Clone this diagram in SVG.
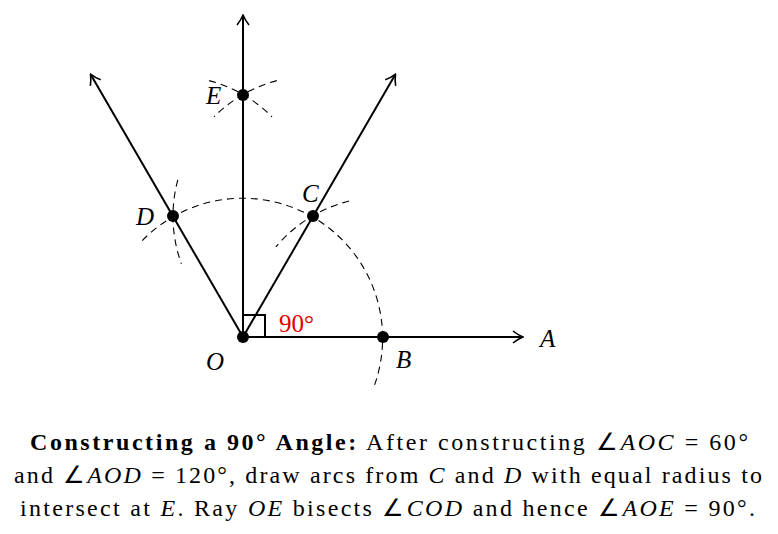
<svg xmlns="http://www.w3.org/2000/svg" width="778" height="534" viewBox="0 0 778 534">
<style>
.ray{stroke:#000;stroke-width:2;fill:none}
.dash{stroke:#000;stroke-width:1.1;fill:none;stroke-dasharray:7 5}
.lbl{font-family:"Liberation Serif",serif;font-style:italic;font-size:25px}
.cap{font-family:"Liberation Serif",serif;font-size:24px}
</style>
<defs><marker id="ah" markerWidth="12" markerHeight="14" refX="10" refY="7" orient="auto" markerUnits="userSpaceOnUse"><path d="M1,1 Q6,5 11,7 Q6,9 1,13" stroke="#000" stroke-width="1.6" fill="none"/></marker></defs>
<rect width="778" height="534" fill="#fff"/>
<g id="connectors">
<line class="ray" x1="243" y1="337" x2="522" y2="337" marker-end="url(#ah)"/>
<line class="ray" x1="243" y1="337" x2="243" y2="16" marker-end="url(#ah)"/>
<line class="ray" x1="243" y1="337" x2="395" y2="75" marker-end="url(#ah)"/>
<line class="ray" x1="243" y1="337" x2="91" y2="75" marker-end="url(#ah)"/>
<path class="ray" d="M243,315 H265 V337" stroke-width="1.5"/>
<path class="dash" d="M374.6,384.9 A140,140 0 0 0 139.6,243.4"/>
<path class="dash" d="M177.8,179.8 A140,140 0 0 0 181.4,263.9"/>
<path class="dash" d="M349.1,201.0 A140,140 0 0 0 275.8,247.0"/>
<path class="dash" d="M276.8,80.6 A140,140 0 0 0 214.0,116.8"/>
<path class="dash" d="M209.2,80.6 A140,140 0 0 1 272.0,116.8"/>
</g>
<g id="O"><circle cx="243" cy="337" r="6"/><text class="lbl" x="206" y="370">O</text></g>
<g id="B"><circle cx="383" cy="337" r="6"/><text class="lbl" x="396" y="368">B</text></g>
<g id="A"><text class="lbl" x="540" y="347">A</text></g>
<g id="C"><circle cx="313" cy="216" r="6"/><text class="lbl" x="302" y="202">C</text></g>
<g id="D"><circle cx="173" cy="216" r="6"/><text class="lbl" x="136" y="225">D</text></g>
<g id="E"><circle cx="243" cy="95" r="6"/><text class="lbl" x="206" y="104">E</text></g>
<text x="279" y="332" font-family="Liberation Serif,serif" font-size="25" fill="#e00000">90°</text>
<g class="cap">
<text x="30" y="450" textLength="718" lengthAdjust="spacing"><tspan font-weight="bold">Constructing a 90° Angle:</tspan> After constructing ∠<tspan font-style="italic">AOC</tspan> = 60°</text>
<text x="14" y="483" textLength="748" lengthAdjust="spacing">and ∠<tspan font-style="italic">AOD</tspan> = 120°, draw arcs from <tspan font-style="italic">C</tspan> and <tspan font-style="italic">D</tspan> with equal radius to</text>
<text x="20" y="516" textLength="735" lengthAdjust="spacing">intersect at <tspan font-style="italic">E</tspan>. Ray <tspan font-style="italic">OE</tspan> bisects ∠<tspan font-style="italic">COD</tspan> and hence ∠<tspan font-style="italic">AOE</tspan> = 90°.</text>
</g>
</svg>
